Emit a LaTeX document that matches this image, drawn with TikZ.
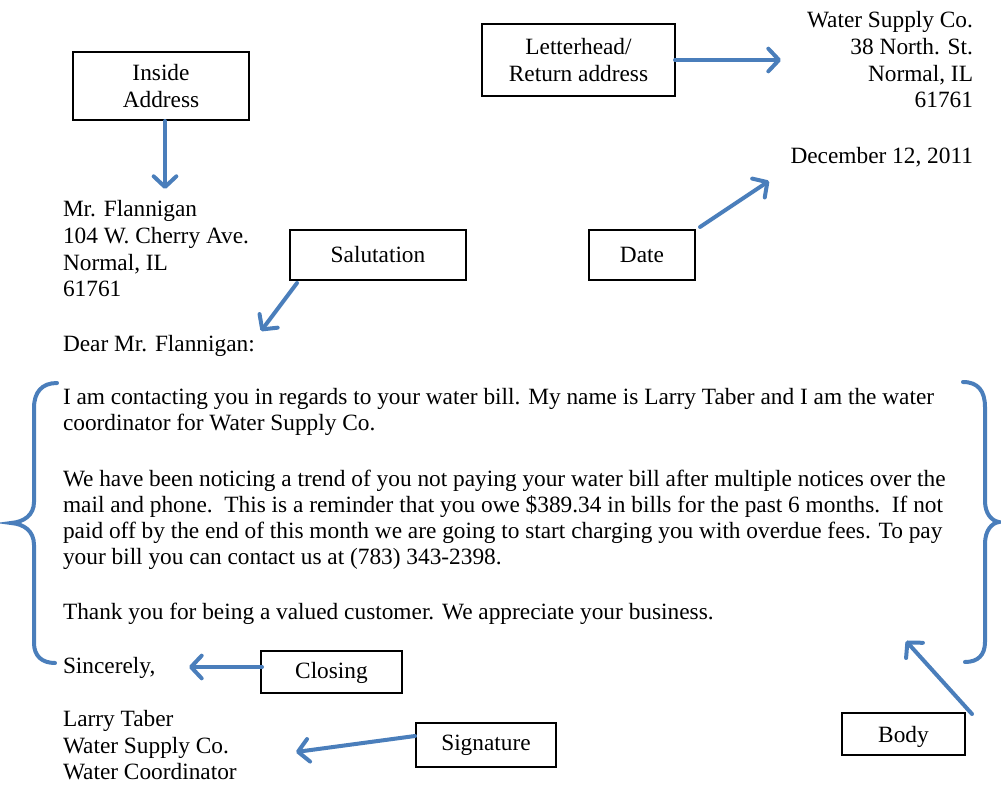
\documentclass[tikz,border=0pt]{standalone}
\usepackage{fontspec}
\setmainfont{Liberation Serif}
\usetikzlibrary{arrows.meta}
\definecolor{arrowblue}{RGB}{74,126,187}
\begin{document}
\begin{tikzpicture}[x=0.75pt,y=-0.75pt,
  every node/.style={font=\fontsize{17.5}{20.25}\selectfont, inner sep=0pt, outer sep=0pt},
  lbox/.style={draw=black, line width=1.1pt, align=center},
  txt/.style={anchor=base west},
  rtxt/.style={anchor=base east},
  conn/.style={draw=arrowblue, line width=3pt, line cap=round, -{Straight Barb[length=8pt,width=17pt,line width=3pt,round]}},
  bracepath/.style={draw=arrowblue, line width=3pt, line cap=round}
]
\useasboundingbox (0,0) rectangle (1001,785);

% label boxes
\node[lbox, minimum width=193*0.75pt, minimum height=72*0.75pt] (LH) at (578.5,60) {Letterhead/\\Return address};
\node[lbox, minimum width=176*0.75pt, minimum height=68*0.75pt] (IA) at (161,86) {Inside\\Address};
\node[lbox, minimum width=176*0.75pt, minimum height=50*0.75pt] (SA) at (378,255) {Salutation};
\node[lbox, minimum width=106*0.75pt, minimum height=50*0.75pt] (DA) at (642,255) {Date};
\node[lbox, minimum width=141*0.75pt, minimum height=42*0.75pt, text height=12pt, text depth=2pt] (CL) at (331.5,672) {Closing};
\node[lbox, minimum width=140*0.75pt, minimum height=44*0.75pt] (SG) at (486,745) {Signature};
\node[lbox, minimum width=123*0.75pt, minimum height=42*0.75pt, text height=15pt, text depth=2pt] (BD) at (903.5,734) {Body};

% return address and date
\node[rtxt] (ra1) at (973,27) {Water Supply Co.};
\node[rtxt] (ra2) at (973,54) {38 North. St.};
\node[rtxt] (ra3) at (973,81) {Normal, IL};
\node[rtxt] (ra4) at (973,107) {61761};
\node[rtxt] (dt) at (973,163) {December 12, 2011};

% inside address
\node[txt] (ad1) at (63,216) {Mr. Flannigan};
\node[txt] (ad2) at (63,243) {104 W. Cherry Ave.};
\node[txt] (ad3) at (63,270) {Normal, IL};
\node[txt] (ad4) at (63,296) {61761};

\node[txt] (sal) at (63,351) {Dear Mr. Flannigan:};

% body
\node[txt] (b1) at (63,404) {I am contacting you in regards to your water bill. My name is Larry Taber and I am the water};
\node[txt] (b2) at (63,430) {coordinator for Water Supply Co.};
\node[txt] (b3) at (63,486) {We have been noticing a trend of you not paying your water bill after multiple notices over the};
\node[txt] (b4) at (63,512) {mail and phone.\ \ This is a reminder that you owe \$389.34 in bills for the past 6 months.\ \ If not};
\node[txt] (b5) at (63,538) {paid off by the end of this month we are going to start charging you with overdue fees. To pay};
\node[txt] (b6) at (63,564) {your bill you can contact us at (783) 343-2398.};
\node[txt] (b7) at (63,619) {Thank you for being a valued customer. We appreciate your business.};

\node[txt] (clo) at (63,673) {Sincerely,};

\node[txt] (s1) at (63,726) {Larry Taber};
\node[txt] (s2) at (63,753) {Water Supply Co.};
\node[txt] (s3) at (63,779) {Water Coordinator};

% arrow end points
\coordinate (eLH) at (781,60);
\coordinate (eIA) at (165,189);
\coordinate (sIA) at (165,121);
\coordinate (eSA) at (261,331);
\coordinate (eDA) at (769,181);
\coordinate (eCL) at (189,667);
\coordinate (sCL) at (262,667);
\coordinate (eSG) at (296,752);
\coordinate (sSG) at (415,736);
\coordinate (eBD) at (906,641);

\draw[conn] (LH.east) -- (eLH);
\draw[conn] (sIA) -- (eIA);
\draw[conn] ([shift={(7,3)}]SA.south west) -- (eSA);
\draw[conn] ([shift={(5,-3)}]DA.north east) -- (eDA);
\draw[conn] (sCL) -- (eCL);
\draw[conn] (sSG) -- (eSG);
\draw[conn] ([shift={(7,1)}]BD.north east) -- (eBD);

% braces
\draw[bracepath] (57,383) .. controls (42,383) and (34,392) .. (34,408) -- (34,502)
  .. controls (34,515) and (24,522) .. (11,523)
  .. controls (24,524) and (34,531) .. (34,545) -- (34,643)
  .. controls (34,656) and (42,663) .. (55,663);
\draw[bracepath] (963,382) .. controls (978,382) and (985,391) .. (985,407) -- (985,501)
  .. controls (985,514) and (992,521) .. (999,522)
  .. controls (992,523) and (985,530) .. (985,544) -- (985,642)
  .. controls (985,655) and (978,662) .. (965,662);
\end{tikzpicture}
\end{document}
